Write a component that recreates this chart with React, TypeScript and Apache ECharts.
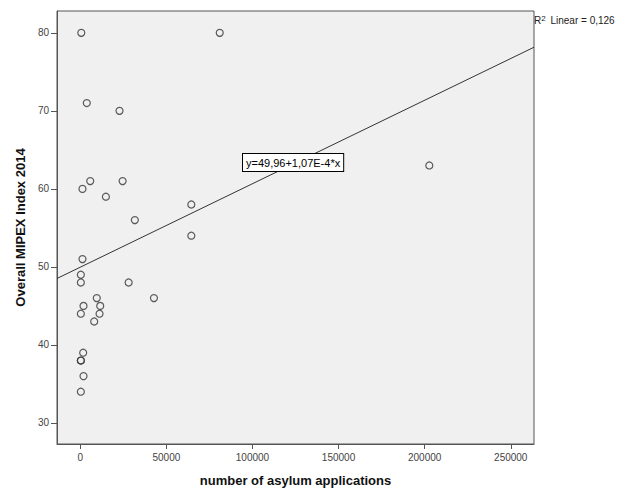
import React, { useEffect, useRef } from "react";
import * as echarts from "echarts";

// number of asylum applications (x) and Overall MIPEX Index 2014 (y)
const asylumApplications = [
  600, 81000, 3800, 22800, 1300, 5800, 24600, 14900, 31700, 64500, 64500,
  1300, 350, 350, 28100, 42800, 9600, 11600, 1900, 350, 11200, 8100, 1700,
  350, 350, 1900, 350, 202700,
];
const mipexIndex = [
  80, 80, 71, 70, 60, 61, 61, 59, 56, 58, 54,
  51, 49, 48, 48, 46, 46, 45, 45, 44, 44, 43, 39,
  38, 38, 36, 34, 63,
];
const xTicks = [0, 50000, 100000, 150000, 200000, 250000];
const yTicks = [30, 40, 50, 60, 70, 80];
const fitIntercept = 49.96;
const fitSlope = 1.07e-4;
const fitLabel = "y=49,96+1,07E-4*x";
const r2Label = "0,126";
const xAxisTitle = "number of asylum applications";
const yAxisTitle = "Overall MIPEX Index 2014";

const X_MIN = -13500;
const X_MAX = 263500;
const Y_MIN = 27.3;
const Y_MAX = 82.8;

export default function App() {
  const ref = useRef<HTMLDivElement>(null);
  useEffect(() => {
    if (!ref.current) return;
    const chart = echarts.init(ref.current, null, { renderer: "svg" });
    const points = asylumApplications.map((x, i) => [x, mipexIndex[i]]);
    const fitLine = [
      [X_MIN, fitIntercept + fitSlope * X_MIN],
      [X_MAX, fitIntercept + fitSlope * X_MAX],
    ];
    const font = "'Liberation Sans', Arial, sans-serif";
    chart.setOption({
      animation: false,
      backgroundColor: "#ffffff",
      textStyle: { fontFamily: font },
      grid: {
        left: 57,
        top: 11,
        right: 107,
        bottom: 52,
        show: true,
        backgroundColor: "#f0f0f0",
        borderColor: "#555555",
        borderWidth: 1,
        containLabel: false,
        outerBoundsMode: "none",
      },
      xAxis: {
        type: "value",
        min: X_MIN,
        max: X_MAX,
        name: xAxisTitle,
        nameLocation: "middle",
        nameGap: 30,
        nameTextStyle: { fontSize: 13, fontWeight: "bold", color: "#111", fontFamily: font },
        splitLine: { show: false },
        axisLine: { show: true, onZero: false, lineStyle: { color: "#555555", width: 1 } },
        axisTick: { show: true, length: 5, lineStyle: { color: "#555555" }, customValues: xTicks },
        axisLabel: {
          show: true,
          color: "#444",
          fontSize: 10,
          margin: 8,
          customValues: xTicks,
          formatter: (v: number) => String(v),
        },
      },
      yAxis: {
        type: "value",
        min: Y_MIN,
        max: Y_MAX,
        name: yAxisTitle,
        nameLocation: "middle",
        nameGap: 30,
        nameTextStyle: { fontSize: 13, fontWeight: "bold", color: "#111", fontFamily: font },
        splitLine: { show: false },
        axisLine: { show: true, onZero: false, lineStyle: { color: "#555555", width: 1 } },
        axisTick: { show: true, length: 6, lineStyle: { color: "#555555" }, customValues: yTicks },
        axisLabel: {
          show: true,
          color: "#444",
          fontSize: 10,
          margin: 8,
          customValues: yTicks,
          formatter: (v: number) => String(v),
        },
      },
      series: [
        {
          type: "line",
          data: fitLine,
          symbol: "none",
          lineStyle: { color: "#333333", width: 1 },
          z: 2,
          silent: true,
        },
        {
          type: "scatter",
          data: points,
          symbol: "circle",
          symbolSize: 7,
          itemStyle: { color: "rgba(0,0,0,0)", borderColor: "#333333", borderWidth: 1.2 },
          z: 3,
        },
      ],
      graphic: [
        {
          type: "text",
          left: 242,
          top: 153,
          z: 10,
          style: {
            text: fitLabel,
            fontSize: 11,
            fontFamily: font,
            fill: "#000",
            backgroundColor: "#ffffff",
            borderColor: "#000000",
            borderWidth: 1,
            padding: [3, 3, 3, 3],
          },
        },
        {
          type: "text",
          left: 534,
          top: 14,
          style: {
            text: "R{sup|2} Linear = " + r2Label,
            fontSize: 10,
            fontFamily: font,
            fill: "#222",
            rich: {
              sup: { fontSize: 8, verticalAlign: "top", padding: [0, 2, 4, 0], fill: "#222" },
            },
          },
        },
      ],
    });
    return () => chart.dispose();
  }, []);
  return (
    <div
      ref={ref}
      style={{ position: "absolute", left: 0, top: 0, width: 641, height: 496 }}
    />
  );
}
